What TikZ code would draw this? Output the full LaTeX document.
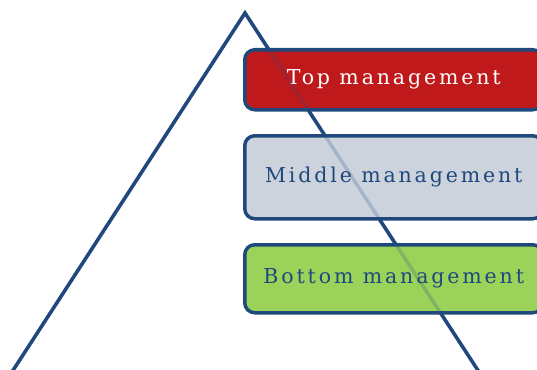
\documentclass[tikz,border=0pt]{standalone}
\usepackage{fontspec}
\setmainfont{DejaVu Serif}[LetterSpace=14]
\definecolor{navy}{HTML}{1F497D}
\definecolor{topred}{HTML}{C0191B}
\definecolor{midgrey}{HTML}{CDD3DD}
\definecolor{botgreen}{HTML}{9BD35A}
\begin{document}
\begin{tikzpicture}[x=1pt,y=-1pt,
  levelbox/.style={draw=navy, line width=3.5pt, rounded corners=10pt,
    minimum width=298pt, anchor=north west, inner sep=0pt,
    font=\fontsize{20.5}{24}\selectfont},
  side/.style={draw=navy, line width=3.5pt, line join=miter}]
\useasboundingbox (0,0) rectangle (537,369);
\coordinate (apex) at (245,13);
\coordinate (bl) at (10,375);
\coordinate (br) at (481,375);
\draw[side] (bl) -- (apex) -- (br);
\node[levelbox, fill=topred, text=white, minimum height=60pt] (top) at (243,48) {Top management};
\node[levelbox, fill=midgrey, text=navy, minimum height=83pt] (mid) at (243,134) {Middle management};
\node[levelbox, fill=botgreen, text=navy, minimum height=68pt] (bot) at (243,243) {Bottom management};
\draw[side, draw opacity=0.22] (bl) -- (apex) -- (br);
\end{tikzpicture}
\end{document}
